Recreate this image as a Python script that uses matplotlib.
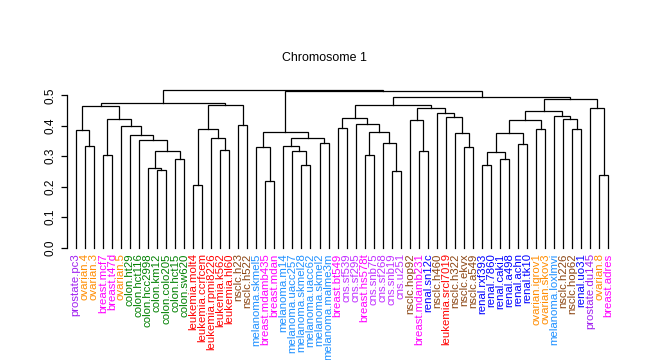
import matplotlib
matplotlib.use("Agg")
import matplotlib.pyplot as plt

plt.rcParams['font.family'] = ['Liberation Sans', 'DejaVu Sans']

labels = [
    "prostate.pc3", "ovarian.4", "ovarian.3", "breast.mcf7", "breast.t47d", "ovarian.5",
    "colon.ht29", "colon.hct116", "colon.hcc2998", "colon.km12", "colon.colo205",
    "colon.hct15", "colon.sw620", "leukemia.molt4", "leukemia.ccrfcem",
    "leukemia.rpmi8226", "leukemia.k562", "leukemia.hl60", "nsclc.h23", "nsclc.h522",
    "melanoma.skmel5", "breast.mdamb435", "breast.mdan", "melanoma.m14",
    "melanoma.uacc257", "melanoma.skmel28", "melanoma.uacc62", "melanoma.skmel2",
    "melanoma.malme3m", "breast.bt549", "cns.sf539", "cns.sf295", "breast.hs578t",
    "cns.snb75", "cns.sf268", "cns.snb19", "cns.u251", "nsclc.hop92", "breast.mdamb231",
    "renal.sn12c", "nsclc.h460", "leukemia.srcl7019", "nsclc.h322", "nsclc.ekvx",
    "nsclc.a549", "renal.rxf393", "renal.7860", "renal.caki1", "renal.a498",
    "renal.achn", "renal.tk10", "ovarian.igrov1", "ovarian.skov3", "melanoma.loxlmvi",
    "nsclc.h226", "nsclc.hop62", "renal.uo31", "prostate.du145", "ovarian.8",
    "breast.adres",
]

# hclust-style merge matrix: negative = leaf (1-based), positive = earlier merge (1-based)
merge_a = [-2, -1, -4, -10, -9, -12, 5, -8, -7, -6, 3, 2, -14, -17, -16, 13, -19, 16, 12,
           -22, -21, -26, -25, -24, -28, 24, 21, -30, -33, -36, -35, 29, -32, 28, -39, -38,
           -44, -43, -42, -41, 36, 34, -46, -48, 43, -50, 45, -52, 47, -56, -55, -54, 49,
           -59, -58, 53, 42, 27, 19]
merge_b = [-3, 1, -5, -11, 4, -13, 6, 7, 8, 9, 10, 11, -15, -18, 14, 15, -20, 17, 18,
           -23, 20, -27, 22, 23, -29, 25, 26, -31, -34, -37, 30, 31, 32, 33, -40, 35,
           -45, 37, 38, 39, 40, 41, -47, -49, 44, -51, 46, -53, 48, -57, 50, 51, 52,
           -60, 54, 55, 56, 57, 58]
merge_h = [0.333, 0.385, 0.303, 0.254, 0.260, 0.292, 0.316, 0.352, 0.371, 0.400, 0.422,
           0.464, 0.205, 0.320, 0.359, 0.388, 0.402, 0.467, 0.474, 0.218, 0.331, 0.270,
           0.316, 0.335, 0.342, 0.361, 0.379, 0.392, 0.303, 0.251, 0.342, 0.379, 0.405,
           0.425, 0.318, 0.418, 0.329, 0.375, 0.430, 0.443, 0.459, 0.467, 0.270, 0.290,
           0.313, 0.339, 0.375, 0.388, 0.418, 0.388, 0.421, 0.431, 0.448, 0.238, 0.457,
           0.487, 0.495, 0.513, 0.516]

group_colors = {
    "prostate": "#A020F0", "ovarian": "#FF8C00", "breast": "#FF00FF",
    "colon": "#008000", "leukemia": "#FF0000", "nsclc": "#8B4513",
    "melanoma": "#1E90FF", "cns": "#C030FF", "renal": "#0000FF",
}

W, H = 647, 360
fig = plt.figure(figsize=(W / 100, H / 100), dpi=100)

x_left_px, x_right_px = 66.7, 620.0
leaf0_px, step_px = 75.7, 9.03
y0_px, ytop_px = 247.7, 88.0
unit_px = 304.8
ax = fig.add_axes([x_left_px / W, (H - y0_px) / H,
                   (x_right_px - x_left_px) / W, (y0_px - ytop_px) / H])
ax.set_xlim((x_left_px - leaf0_px) / step_px, (x_right_px - leaf0_px) / step_px)
ax.set_ylim(0, (y0_px - ytop_px) / unit_px)

node_x, node_h = [], []

def pos(ref):
    if ref < 0:
        return float(-ref - 1), 0.0
    return node_x[ref - 1], node_h[ref - 1]

for a, b, h in zip(merge_a, merge_b, merge_h):
    xa, ha = pos(a)
    xb, hb = pos(b)
    ax.plot([xa, xa, xb, xb], [ha, h, h, hb], color="black", lw=0.9,
            solid_joinstyle="miter", clip_on=False)
    node_x.append((xa + xb) / 2)
    node_h.append(h)

for s in ["top", "right", "bottom"]:
    ax.spines[s].set_visible(False)
ax.spines["left"].set_bounds(0, 0.5)
ax.spines["left"].set_linewidth(0.9)
yt = [0.0, 0.1, 0.2, 0.3, 0.4, 0.5]
ax.set_yticks(yt)
ax.set_yticklabels([f"{v:.1f}" for v in yt], rotation=90, va="center", fontsize=8.5)
ax.tick_params(axis="y", length=4.5, width=0.9, pad=3)

ax.set_xticks(range(len(labels)))
ax.set_xticklabels(labels, rotation=90, fontsize=8.2)
ax.tick_params(axis="x", length=0, pad=4)
for lbl, t in zip(labels, ax.get_xticklabels()):
    t.set_color(group_colors[lbl.split(".")[0]])

fig.text(324 / W, 1 - 58 / H, "Chromosome 1", ha="center", va="center", fontsize=8.9)

fig.savefig("out.png", dpi=100)
